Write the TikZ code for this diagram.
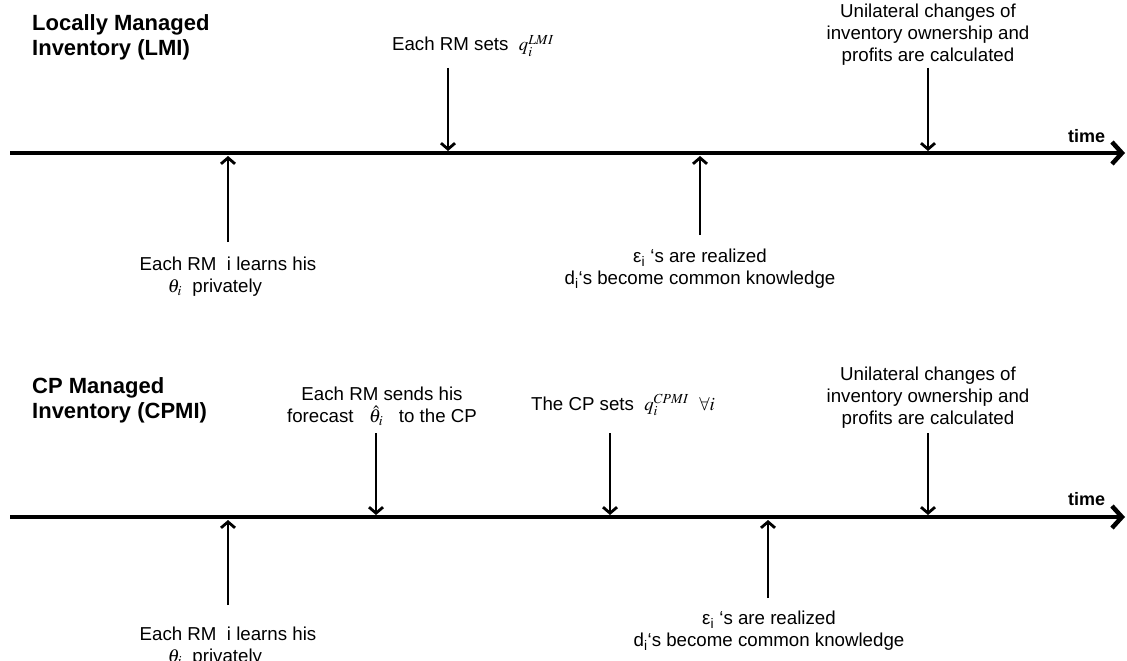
\documentclass[tikz,border=0pt]{standalone}
\usepackage{amsmath,amssymb}
\usepackage{mathptmx}
\usepackage{fontspec}
\setmainfont{Liberation Sans}
\usetikzlibrary{arrows,arrows.meta}

\tikzset{
  timeline/.style={line width=4.5pt,-{Straight Barb[length=10pt,width=22pt]}},
  event/.style={line width=2.8pt,-{Straight Barb[length=6pt,width=14pt]}},
  lbl/.style={font=\fontsize{18.7}{22}\selectfont,align=center,inner sep=0pt,anchor=north},
  ttl/.style={font=\fontsize{22}{25}\selectfont\bfseries,align=left,inner sep=0pt,anchor=north west},
  tlbl/.style={font=\fontsize{18}{22}\selectfont\bfseries,inner sep=0pt,anchor=base west}
}

\begin{document}
\begin{tikzpicture}[line cap=butt,line join=miter,x=1pt,y=-1pt]
        \useasboundingbox (0,0) rectangle (1127,661);
        % LMI timeline
        \coordinate (ls) at (10,153);
        \coordinate (le) at (1125,153);
        \draw[timeline] (ls) -- (le);
        \node[ttl] (lmi) at (32,14) {Locally Managed\\Inventory (LMI)};
        \node[tlbl] (ltime) at (1068,142) {time};
        \node[lbl] (lsets) at (473,35) {Each RM sets\ \ $q_i^{LMI}$};
        \node[lbl] (lunil) at (928,4) {Unilateral changes of\\inventory ownership and\\profits are calculated};
        \node[lbl] (llearn) at (228,257) {Each RM\ \ i learns his\\$\theta_i$\ \ privately\hspace*{26pt}};
        \node[lbl] (leps) at (700,249) {ε\textsubscript{i} ‘s are realized\\d\textsubscript{i}‘s become common knowledge};
        \coordinate (la1) at (448,68);   \coordinate (lb1) at (448,151);
        \coordinate (la2) at (928,68);   \coordinate (lb2) at (928,151);
        \coordinate (la3) at (228,242);  \coordinate (lb3) at (228,156);
        \coordinate (la4) at (700,235);  \coordinate (lb4) at (700,156);
        \foreach \n in {1,2,3,4}
        \draw[event] (la\n) -- (lb\n);
        % CPMI timeline
        \coordinate (cs) at (10,517);
        \coordinate (ce) at (1125,517);
        \draw[timeline] (cs) -- (ce);
        \node[ttl] (cpmi) at (32,377) {CP Managed\\Inventory (CPMI)};
        \node[tlbl] (ctime) at (1068,505) {time};
        \node[lbl] (csend) at (382,387) {Each RM sends his\\forecast\ \ \ $\hat{\theta}_i$\ \ \ to the CP};
        \node[lbl] (csets) at (623,394) {The CP sets\ \ $q_i^{CPMI}$\ \ $\forall i$};
        \node[lbl] (cunil) at (928,367) {Unilateral changes of\\inventory ownership and\\profits are calculated};
        \node[lbl] (clearn) at (228,627) {Each RM\ \ i learns his\\$\theta_i$\ \ privately\hspace*{26pt}};
        \node[lbl] (ceps) at (769,611) {ε\textsubscript{i} ‘s are realized\\d\textsubscript{i}‘s become common knowledge};
        \coordinate (ca1) at (376,433);  \coordinate (cb1) at (376,515);
        \coordinate (ca2) at (610,433);  \coordinate (cb2) at (610,515);
        \coordinate (ca3) at (928,433);  \coordinate (cb3) at (928,515);
        \coordinate (ca4) at (228,605);  \coordinate (cb4) at (228,520);
        \coordinate (ca5) at (768,598);  \coordinate (cb5) at (768,520);
        \foreach \n in {1,2,3,4,5}
        \draw[event] (ca\n) -- (cb\n);
\end{tikzpicture}
\end{document}
